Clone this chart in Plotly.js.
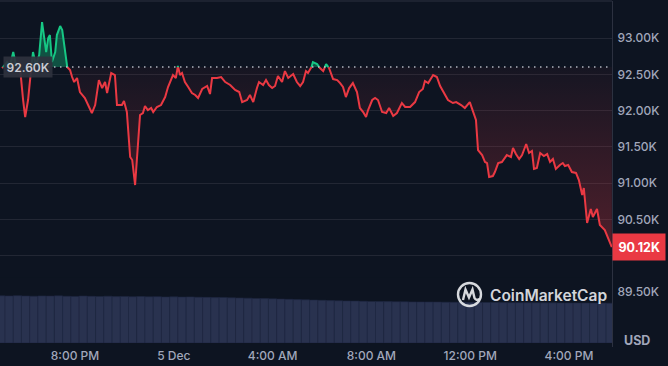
<!DOCTYPE html>
<html>
<head>
<meta charset="utf-8">
<script src="https://cdn.plot.ly/plotly-3.0.1.min.js"></script>
<style>
  html, body { margin: 0; padding: 0; background: #0d1421; }
  #chart { width: 668px; height: 366px; }
</style>
</head>
<body>
<div id="chart"></div>
<script>
// ---------- data ----------
const YEAR = 2025;
const priceTimes = [
  '12-04 17:03','12-04 17:15','12-04 17:22','12-04 17:30','12-04 17:37','12-04 17:47','12-04 17:54','12-04 17:59',
  '12-04 18:06','12-04 18:11','12-04 18:18','12-04 18:25','12-04 18:33','12-04 18:40','12-04 18:50','12-04 18:55',
  '12-04 18:59','12-04 19:04','12-04 19:12','12-04 19:16','12-04 19:24','12-04 19:29','12-04 19:41','12-04 19:48',
  '12-04 19:53','12-04 19:58','12-04 20:05','12-04 20:12','12-04 20:24','12-04 20:32','12-04 20:41','12-04 20:49',
  '12-04 20:58','12-04 21:06','12-04 21:13','12-04 21:18','12-04 21:28','12-04 21:37','12-04 21:42','12-04 21:54',
  '12-04 21:59','12-04 22:06','12-04 22:14','12-04 22:19','12-04 22:26','12-04 22:38','12-04 22:45','12-04 22:50',
  '12-04 22:57','12-04 23:05','12-04 23:10','12-04 23:19','12-04 23:29','12-04 23:39','12-04 23:46','12-04 23:58',
  '12-05 00:05','12-05 00:10','12-05 00:15','12-05 00:20','12-05 00:27','12-05 00:35','12-05 00:44','12-05 00:52',
  '12-05 00:59','12-05 01:09','12-05 01:21','12-05 01:28','12-05 01:33','12-05 01:45','12-05 01:55','12-05 02:05',
  '12-05 02:17','12-05 02:29','12-05 02:39','12-05 02:46','12-05 02:58','12-05 03:05','12-05 03:13','12-05 03:22',
  '12-05 03:27','12-05 03:37','12-05 03:44','12-05 03:51','12-05 03:59','12-05 04:06','12-05 04:13','12-05 04:23',
  '12-05 04:30','12-05 04:38','12-05 04:50','12-05 04:59','12-05 05:07','12-05 05:14','12-05 05:21','12-05 05:26',
  '12-05 05:33','12-05 05:38','12-05 05:48','12-05 05:55','12-05 06:03','12-05 06:10','12-05 06:17','12-05 06:27',
  '12-05 06:37','12-05 06:44','12-05 06:51','12-05 06:58','12-05 07:06','12-05 07:15','12-05 07:25','12-05 07:32',
  '12-05 07:40','12-05 07:47','12-05 07:52','12-05 08:02','12-05 08:09','12-05 08:16','12-05 08:26','12-05 08:36',
  '12-05 08:43','12-05 08:53','12-05 09:02','12-05 09:14','12-05 09:22','12-05 09:34','12-05 09:46','12-05 09:56',
  '12-05 10:05','12-05 10:10','12-05 10:18','12-05 10:30','12-05 10:39','12-05 10:47','12-05 10:56','12-05 11:06',
  '12-05 11:18','12-05 11:26','12-05 11:38','12-05 11:47','12-05 11:59','12-05 12:07','12-05 12:14','12-05 12:19',
  '12-05 12:29','12-05 12:36','12-05 12:41','12-05 12:46','12-05 12:55','12-05 13:00','12-05 13:08','12-05 13:17',
  '12-05 13:29','12-05 13:39','12-05 13:44','12-05 13:51','12-05 13:59','12-05 14:06','12-05 14:16','12-05 14:23',
  '12-05 14:30','12-05 14:35','12-05 14:42','12-05 14:50','12-05 14:59','12-05 15:07','12-05 15:14','12-05 15:21',
  '12-05 15:28','12-05 15:38','12-05 15:45','12-05 15:50','12-05 15:58','12-05 16:07','12-05 16:17','12-05 16:24',
  '12-05 16:32','12-05 16:36','12-05 16:44','12-05 16:53','12-05 16:58','12-05 17:08','12-05 17:15','12-05 17:27',
  '12-05 17:37','12-05 17:44'
];
const prices = [
  92587,92669,92614,92807,92614,92559,92146,91912,
  92146,92449,92807,92628,92766,93220,92807,93000,
  93041,92669,92807,93041,93165,93110,92601,92559,
  92463,92394,92449,92256,92174,92077,91967,92077,
  92421,92311,92394,92242,92518,92490,92077,92077,
  92132,91981,91361,91320,90975,91939,91967,92063,
  92008,92036,91981,92050,92077,92187,92325,92490,
  92449,92614,92490,92518,92394,92325,92242,92215,
  92174,92298,92339,92229,92449,92449,92463,92394,
  92353,92284,92256,92118,92146,92215,92118,92311,
  92394,92353,92421,92353,92311,92339,92477,92394,
  92545,92449,92504,92394,92339,92394,92545,92518,
  92573,92669,92642,92587,92545,92642,92587,92435,
  92421,92380,92325,92187,92311,92380,92256,92036,
  91981,91912,92008,92146,92174,92146,91981,91967,
  92036,91926,91967,92105,92050,92050,92118,92256,
  92298,92408,92380,92490,92463,92339,92256,92146,
  92105,92118,92077,92036,92118,91967,91871,91457,
  91388,91292,91278,91085,91099,91154,91278,91292,
  91388,91361,91485,91402,91333,91388,91540,91416,
  91444,91196,91209,91416,91375,91402,91292,91333,
  91196,91251,91278,91237,91251,91154,91141,91044,
  90837,90934,90452,90645,90535,90645,90424,90355,
  90218,90120
];
const basePrice = 92600;     // reference (opening) price, dotted line
const lastPrice = 90120;     // current price badge

const volTimes = [
  '12-04 17:00','12-04 17:20','12-04 17:40','12-04 18:00','12-04 18:20','12-04 18:40','12-04 19:00','12-04 19:20',
  '12-04 19:40','12-04 20:00','12-04 20:20','12-04 20:40','12-04 21:00','12-04 21:20','12-04 21:40','12-04 22:00',
  '12-04 22:20','12-04 22:40','12-04 23:00','12-04 23:20','12-04 23:40',
  '12-05 00:00','12-05 00:20','12-05 00:40','12-05 01:00','12-05 01:20','12-05 01:40','12-05 02:00','12-05 02:20',
  '12-05 02:40','12-05 03:00','12-05 03:20','12-05 03:40','12-05 04:00','12-05 04:20','12-05 04:40','12-05 05:00',
  '12-05 05:20','12-05 05:40','12-05 06:00','12-05 06:20','12-05 06:40','12-05 07:00','12-05 07:20','12-05 07:40',
  '12-05 08:00','12-05 08:20','12-05 08:40','12-05 09:00','12-05 09:20','12-05 09:40','12-05 10:00','12-05 10:20',
  '12-05 10:40','12-05 11:00','12-05 11:20','12-05 11:40','12-05 12:00','12-05 12:20','12-05 12:40','12-05 13:00',
  '12-05 13:20','12-05 13:40','12-05 14:00','12-05 14:20','12-05 14:40','12-05 15:00','12-05 15:20','12-05 15:40',
  '12-05 16:00','12-05 16:20','12-05 16:40','12-05 17:00','12-05 17:20','12-05 17:40'
];
// 24h volume, billions USD
const volumes = [
  72.4,72.1,72.6,72.0,71.8,72.2,71.9,72.3,71.7,71.5,72.0,71.6,71.4,71.8,71.2,71.5,71.0,71.3,70.9,71.1,
  70.6,70.8,70.4,70.7,70.2,
  70.0,69.7,69.9,69.3,69.0,68.8,68.4,68.1,67.7,67.3,67.0,66.6,66.2,65.8,65.5,65.1,
  64.8,64.5,64.3,64.0,63.8,63.6,63.5,63.3,63.2,63.0,62.9,62.8,62.7,62.6,62.5,62.4,62.3,62.3,62.2,62.1,
  62.0,61.9,61.9,61.8,61.7,61.6,61.6,61.5,61.4,61.4,61.3,61.2,61.2,61.1
];

const yTickVals = [89500, 90000, 90500, 91000, 91500, 92000, 92500, 93000];
const yTickText = ['89.50K','90.00K','90.50K','91.00K','91.50K','92.00K','92.50K','93.00K'];
const xTickVals = ['12-04 20:00','12-05 00:00','12-05 04:00','12-05 08:00','12-05 12:00','12-05 16:00'];
const xTickText = ['8:00 PM','5 Dec','4:00 AM','8:00 AM','12:00 PM','4:00 PM'];
const xRange = ['12-04 16:57:50','12-05 17:44:28'];

// ---------- helpers ----------
function toMs(s) {
  const m = s.match(/(\d+)-(\d+) (\d+):(\d+)(?::(\d+))?/);
  return Date.UTC(YEAR, +m[1] - 1, +m[2], +m[3], +m[4], m[5] ? +m[5] : 0);
}
const RED = '#ea3943', GREEN = '#16c784';
const AX = '#a1a7bb', GRID = '#222734';

// split the price line into above/below-baseline parts
const t = priceTimes.map(toMs);
const gX = [], gY = [], rX = [], rY = [], fX = [], lowY = [], highY = [];
for (let i = 0; i < prices.length; i++) {
  const p = prices[i];
  if (i > 0) {
    const a = prices[i - 1] - basePrice, b = p - basePrice;
    if (a * b < 0) {
      const tc = t[i - 1] + (t[i] - t[i - 1]) * (basePrice - prices[i - 1]) / (p - prices[i - 1]);
      gX.push(tc); gY.push(basePrice);
      rX.push(tc); rY.push(basePrice);
      fX.push(tc); lowY.push(basePrice); highY.push(basePrice);
    }
  }
  fX.push(t[i]); lowY.push(Math.min(p, basePrice)); highY.push(Math.max(p, basePrice));
  if (p >= basePrice) { gX.push(t[i]); gY.push(p); } else { gX.push(t[i]); gY.push(null); }
  if (p <= basePrice) { rX.push(t[i]); rY.push(p); } else { rX.push(t[i]); rY.push(null); }
}
const baseArr = fX.map(() => basePrice);

const traces = [
  { x: fX, y: baseArr, type: 'scatter', mode: 'lines', line: { width: 0 }, hoverinfo: 'skip', showlegend: false },
  { x: fX, y: lowY, type: 'scatter', mode: 'lines', line: { width: 0 }, fill: 'tonexty',
    fillcolor: 'rgba(234,57,67,0.12)',
    fillgradient: { type: 'vertical', start: 90100, stop: basePrice,
      colorscale: [[0, 'rgba(234,57,67,0.30)'], [1, 'rgba(234,57,67,0.04)']] },
    hoverinfo: 'skip', showlegend: false },
  { x: fX, y: baseArr, type: 'scatter', mode: 'lines', line: { width: 0 }, hoverinfo: 'skip', showlegend: false },
  { x: fX, y: highY, type: 'scatter', mode: 'lines', line: { width: 0 }, fill: 'tonexty',
    fillcolor: 'rgba(22,199,132,0.35)', hoverinfo: 'skip', showlegend: false },
  { x: volTimes.map(toMs), y: volumes, type: 'bar', xaxis: 'x', yaxis: 'y2',
    marker: { color: '#29324f', line: { color: '#1f2742', width: 0.6 } },
    width: 1200000, hoverinfo: 'skip', showlegend: false },
  { x: rX, y: rY, type: 'scatter', mode: 'lines', line: { color: RED, width: 2 }, connectgaps: false,
    hoverinfo: 'skip', showlegend: false },
  { x: gX, y: gY, type: 'scatter', mode: 'lines', line: { color: GREEN, width: 2 }, connectgaps: false,
    hoverinfo: 'skip', showlegend: false }
];

const PW = 612, PT = 1, PB = 347, PH = PB - PT;
const px = v => v / PW;
const py = v => (PB - v) / PH;

const layout = {
  width: 668, height: 366,
  margin: { l: 0, r: 56, t: 1, b: 19, pad: 0 },
  paper_bgcolor: '#0d1421', plot_bgcolor: '#0d1421',
  font: { family: 'Inter, "Noto Sans", sans-serif', color: AX, size: 12 },
  hovermode: false, showlegend: false, bargap: 0,
  xaxis: {
    type: 'date', range: xRange.map(toMs), showgrid: false, zeroline: false, showline: false,
    tickvals: xTickVals.map(toMs), ticktext: xTickText, ticks: '',
    tickfont: { size: 12, color: AX, weight: 500 }, fixedrange: true
  },
  yaxis: {
    domain: [0, 1], side: 'right', range: [88744, 93510],
    tickvals: yTickVals, ticktext: yTickText,
    showgrid: true, gridcolor: GRID, gridwidth: 1, zeroline: false,
    showline: true, linecolor: '#2c3140', linewidth: 1,
    ticks: 'outside', ticklen: 2, tickcolor: 'rgba(0,0,0,0)',
    tickfont: { size: 12, color: AX, weight: 500 }, fixedrange: true
  },
  yaxis2: {
    domain: [0.01156, 0.2], anchor: 'x', range: [0, 100],
    showgrid: false, zeroline: false, showticklabels: false, showline: false, fixedrange: true
  },
  shapes: [
    { type: 'line', xref: 'paper', yref: 'paper', x0: 0, x1: 1, y0: 1, y1: 1,
      line: { color: '#2c3140', width: 1 } },
    { type: 'line', xref: 'paper', yref: 'y', x0: px(48), x1: 1, y0: basePrice, y1: basePrice,
      line: { color: 'rgba(205,210,220,0.85)', width: 1.5, dash: '1.5px,4.5px' } },
    // CoinMarketCap logo (ring + wave)
    { type: 'circle', xref: 'paper', yref: 'paper', x0: px(458), x1: px(481), y0: py(306), y1: py(283),
      line: { color: 'rgba(232,234,238,0.92)', width: 2.4 } },
    { type: 'path', xref: 'paper', yref: 'paper',
      path: 'M ' + px(463) + ' ' + py(300) + ' L ' + px(465.5) + ' ' + py(289.5) + ' L ' + px(469) + ' ' + py(297.5) +
            ' L ' + px(472.5) + ' ' + py(289.5) + ' L ' + px(474.5) + ' ' + py(298) + ' Q ' + px(476) + ' ' + py(301) +
            ' ' + px(479.5) + ' ' + py(299),
      line: { color: 'rgba(232,234,238,0.92)', width: 2.4 } }
  ],
  annotations: [
    { xref: 'paper', yref: 'paper', x: px(488), y: py(295.5), xanchor: 'left', yanchor: 'middle',
      text: 'CoinMarketCap', showarrow: false,
      font: { family: 'Inter, "Noto Sans", sans-serif', size: 15.5, color: 'rgba(232,234,238,0.92)', weight: 600 } },
    { xref: 'paper', yref: 'y', x: 1, y: lastPrice, xanchor: 'left', yanchor: 'middle',
      text: (lastPrice / 1000).toFixed(2) + 'K', showarrow: false, bgcolor: RED, borderpad: 5.5,
      font: { size: 12.5, color: '#ffffff', weight: 700 } },
    { xref: 'paper', yref: 'y', x: px(3), y: basePrice, xanchor: 'left', yanchor: 'middle',
      text: (basePrice / 1000).toFixed(2) + 'K', showarrow: false, bgcolor: 'rgba(46,50,62,0.92)', borderpad: 2.5,
      font: { size: 12, color: '#c9ccd4', weight: 600 } },
    { xref: 'paper', yref: 'paper', x: px(637), y: py(340), xanchor: 'center', yanchor: 'middle',
      text: 'USD', showarrow: false, font: { size: 12.5, color: AX, weight: 700 } }
  ]
};

Plotly.newPlot('chart', traces, layout, { displayModeBar: false, staticPlot: true });
</script>
</body>
</html>
